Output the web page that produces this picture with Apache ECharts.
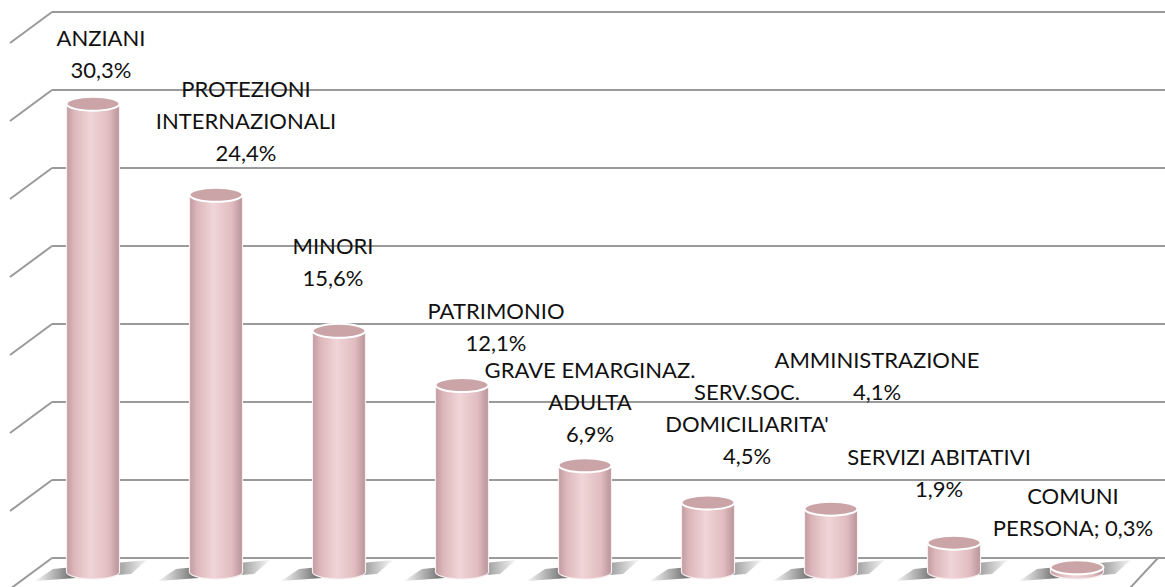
<!DOCTYPE html>
<html>
<head>
<meta charset="utf-8">
<script src="https://cdn.jsdelivr.net/npm/echarts@6/dist/echarts.min.js"></script>
<style>
    html, body { margin: 0; padding: 0; background: #fff; }
    #main { width: 1165px; height: 587px; }
</style>
</head>
<body>
<div id="main"></div>
<script>

//类别
const categories = ['ANZIANI', 'PROTEZIONI\nINTERNAZIONALI', 'MINORI', 'PATRIMONIO', 'GRAVE EMARGINAZ.\nADULTA',
    "SERV.SOC.\nDOMICILIARITA'", 'AMMINISTRAZIONE', 'SERVIZI ABITATIVI', 'COMUNI\nPERSONA'];
//百分比
const values = [30.3, 24.4, 15.6, 12.1, 6.9, 4.5, 4.1, 1.9, 0.3];
//名称和数值之间的分隔
const separators = ['\n', '\n', '\n', '\n', '\n', '\n', '\n', '\n', '; '];
//刻度
const yTicks = [0, 5, 10, 15, 20, 25, 30, 35];

//标签位置偏移（只是样式）
const labelDx = [8, 30, -6, 34, 5, 39, 46, -15, -4];
const labelDy = [-34, -42, -53, -42, -32, -47, -117, -54, -40];

const fmt = v => v.toFixed(1).replace('.', ',') + '%';

const gridColor = '#9a9a9a';
const barW = 53;
const capRy = 7;
const lineH = 32;

const chart = echarts.init(document.getElementById('main'), null, { renderer: 'svg' });

//圆柱
const renderBar = (params, api) => {
    const i = api.value(0);
    const v = api.value(1);
    const top = api.coord([i, v]);
    const base = api.coord([i, 0]);
    const cx = top[0];
    const rx = barW / 2;
    const x1 = cx - rx;
    const x2 = cx + rx;

    const body = new echarts.graphic.LinearGradient(0, 0, 1, 0, [
        { offset: 0, color: '#c29ba0' },
        { offset: 0.15, color: '#dcb7bb' },
        { offset: 0.45, color: '#f0d5d7' },
        { offset: 0.8, color: '#e0bcc0' },
        { offset: 1, color: '#b8949a' }
    ]);
    //阴影渐变
    const shade = new echarts.graphic.LinearGradient(0, 0, 1, 0, [
        { offset: 0, color: 'rgba(100,100,100,0.05)' },
        { offset: 0.3, color: 'rgba(90,90,90,0.8)' },
        { offset: 0.65, color: 'rgba(90,90,90,0.8)' },
        { offset: 1, color: 'rgba(100,100,100,0.05)' }
    ]);

    return {
        type: 'group',
        children: [
            //地面阴影
            {
                type: 'polygon',
                shape: {
                    points: [[cx - 58, base[1] + 9], [cx - 40, base[1] - 3], [cx + 54, base[1] - 12], [cx + 38, base[1] + 2]]
                },
                style: { fill: shade }
            },
            {
                type: 'path',
                shape: {
                    pathData: `M ${x1} ${top[1]} L ${x1} ${base[1]} A ${rx} ${capRy} 0 0 0 ${x2} ${base[1]} L ${x2} ${top[1]} Z`
                },
                style: { fill: body, stroke: '#f8eef0', lineWidth: 1.2 }
            },
            {
                type: 'ellipse',
                shape: { cx: cx, cy: top[1], rx: rx, ry: capRy },
                style: { fill: '#cba4a8', stroke: '#ffffff', lineWidth: 2 }
            },
            {
                type: 'text',
                z2: 10,
                style: {
                    text: categories[i] + separators[i] + fmt(v),
                    x: cx + labelDx[i],
                    y: top[1] + labelDy[i] + lineH / 2,
                    align: 'center',
                    verticalAlign: 'bottom',
                    font: '22px Lato',
                    lineHeight: lineH,
                    fill: '#111111'
                }
            }
        ]
    };
};

//斜线
const renderSlant = (params, api) => {
    const v = api.value(1);
    const p = api.coord([0, v]);
    const children = [
        { type: 'line', shape: { x1: p[0], y1: p[1], x2: p[0] - 42, y2: p[1] + 31 }, style: { stroke: gridColor, lineWidth: 2 } }
    ];
    if (v === 0) {
        const q = api.coord([1, 0]);
        children.push({ type: 'line', shape: { x1: q[0] - 7, y1: q[1], x2: q[0] - 35, y2: q[1] + 30 }, style: { stroke: gridColor, lineWidth: 2 } });
    }
    return { type: 'group', children: children };
};

const option = {
    animation: false,
    grid: [
        { left: 52, right: 0, top: 12, bottom: 29 },
        { left: 31.5, right: 26.5, top: 31, bottom: 15 }
    ],
    xAxis: [
        { gridIndex: 0, type: 'value', min: 0, max: 1, show: false },
        { gridIndex: 1, type: 'category', data: categories, show: false }
    ],
    yAxis: [
        {
            gridIndex: 0, type: 'value', min: 0, max: 35, interval: 5,
            axisLine: { show: false }, axisTick: { show: false }, axisLabel: { show: false },
            splitLine: { show: true, lineStyle: { color: gridColor, width: 2 } }
        },
        { gridIndex: 1, type: 'value', min: 0, max: 35, show: false }
    ],
    series: [
        {
            type: 'custom',
            xAxisIndex: 0,
            yAxisIndex: 0,
            data: yTicks.map(t => [0, t]),
            renderItem: renderSlant,
            silent: true
        },
        {
            type: 'custom',
            xAxisIndex: 1,
            yAxisIndex: 1,
            data: values.map((v, i) => [i, v]),
            encode: { x: 0, y: 1 },
            renderItem: renderBar
        }
    ]
};

chart.setOption(option);

</script>
</body>
</html>
